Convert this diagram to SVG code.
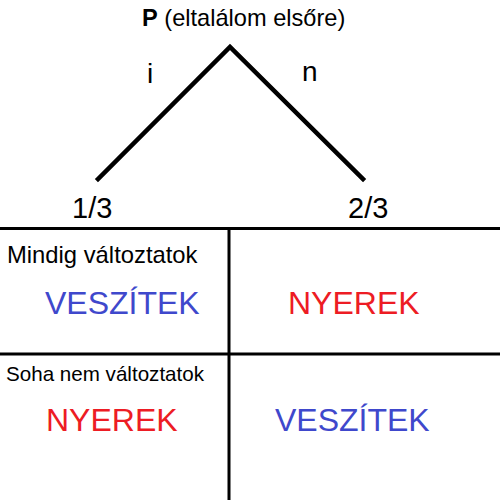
<svg xmlns="http://www.w3.org/2000/svg" width="500" height="500" viewBox="0 0 500 500">
<style>
text{font-family:"Liberation Sans",Arial,sans-serif;fill:#000}
.big{font-size:32px}
.red{fill:#ED1C24}
.blue{fill:#3F48CC}
.grid{stroke:#000;stroke-width:3;fill:none}
.tree{stroke:#000;stroke-width:4.5;fill:none;stroke-linecap:square}
</style>
<rect width="500" height="500" fill="#fff"/>
<g id="connectors">
<polyline class="tree" points="98,179 230,47 363,179"/>
</g>
<g id="grid">
<line class="grid" x1="0" y1="228.5" x2="500" y2="228.5"/>
<line class="grid" x1="0" y1="354" x2="500" y2="354"/>
<line class="grid" x1="229" y1="228.5" x2="229" y2="500"/>
</g>
<g id="root"><text x="142" y="26" font-size="23.6"><tspan font-weight="bold">P</tspan> (eltalálom elsőre)</text></g>
<g id="edge-i"><text x="147" y="83" font-size="28">i</text></g>
<g id="edge-n"><text x="302" y="81" font-size="28">n</text></g>
<g id="leaf-left"><text x="72" y="218" font-size="29">1/3</text></g>
<g id="leaf-right"><text x="348" y="218" font-size="29">2/3</text></g>
<g id="row1"><text x="7" y="263" font-size="23.8">Mindig változtatok</text></g>
<g id="row2"><text x="6" y="381" font-size="20.6">Soha nem változtatok</text></g>
<g id="c11"><text class="big blue" x="45" y="314">VESZÍTEK</text></g>
<g id="c12"><text class="big red" x="288" y="314">NYEREK</text></g>
<g id="c21"><text class="big red" x="46" y="431">NYEREK</text></g>
<g id="c22"><text class="big blue" x="275" y="431">VESZÍTEK</text></g>
</svg>
